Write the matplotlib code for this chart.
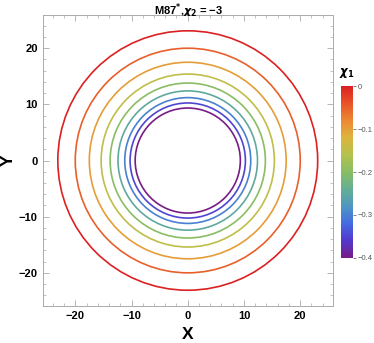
import matplotlib
matplotlib.use('Agg')
import matplotlib.pyplot as plt
from matplotlib.colors import LinearSegmentedColormap, Normalize
from matplotlib.patches import Circle
from matplotlib.ticker import MultipleLocator
from matplotlib.colorbar import ColorbarBase

plt.rcParams['font.family'] = ['Liberation Sans', 'DejaVu Sans']

# chi_1 value of each contour and its radius
chi1 = [-0.4, -0.35, -0.3, -0.25, -0.2, -0.15, -0.1, -0.05, 0.0]
radius = [9.35, 10.25, 11.2, 12.4, 13.8, 15.4, 17.5, 20.0, 23.1]
cbar_ticks = [0, -0.1, -0.2, -0.3, -0.4]
axis_ticks = [-20, -10, 0, 10, 20]

rainbow = LinearSegmentedColormap.from_list('rainbow_m', [
    (0.471, 0.108, 0.527), (0.324, 0.219, 0.806), (0.268, 0.418, 0.884),
    (0.305, 0.592, 0.761), (0.395, 0.687, 0.577), (0.532, 0.742, 0.394),
    (0.70, 0.76, 0.30), (0.866, 0.707, 0.235), (0.93, 0.533, 0.20),
    (0.91, 0.33, 0.16), (0.857, 0.131, 0.132)])
norm = Normalize(vmin=-0.4, vmax=0.0)


def minus(v):
    return str(v).replace('-', '\u2212')


fig = plt.figure(figsize=(3.74, 3.43), dpi=100)
ax = fig.add_axes([0.114, 0.108, 0.776, 0.848])

for c, r in zip(chi1, radius):
    ax.add_patch(Circle((0, 0), r, fill=False, lw=1.2, edgecolor=rainbow(norm(c))))

ax.set_xlim(-25.8, 25.8)
ax.set_ylim(-25.9, 25.9)
ax.set_xticks(axis_ticks)
ax.set_yticks(axis_ticks)
ax.set_xticklabels([minus(t) for t in axis_ticks])
ax.set_yticklabels([minus(t) for t in axis_ticks])
ax.xaxis.set_minor_locator(MultipleLocator(2))
ax.yaxis.set_minor_locator(MultipleLocator(2))
ax.tick_params(which='both', direction='in', top=True, right=True, color='#aaaaaa')
ax.tick_params(which='major', length=4, width=0.6, labelsize=8)
ax.tick_params(which='minor', length=2, width=0.5)
for lbl in ax.get_xticklabels() + ax.get_yticklabels():
    lbl.set_fontweight('bold')
for sp in ax.spines.values():
    sp.set_color('#aaaaaa')
    sp.set_linewidth(0.7)

fig.text(0.503, 0.003, 'X', fontsize=12.5, fontweight='bold', ha='center', va='bottom')
fig.text(0.022, 0.534, 'Y', fontsize=12.5, fontweight='bold', rotation=90,
         ha='center', va='center')
fig.text(0.503, 0.997, r'M87$^{\mathbf{*}}$,$\boldsymbol{\chi}_\mathbf{2}$ = ' + '\u22123',
         fontsize=8, fontweight='bold', ha='center', va='top')

cax = fig.add_axes([0.912, 0.248, 0.032, 0.501])
cb = ColorbarBase(cax, cmap=rainbow, norm=norm, ticks=cbar_ticks)
cb.set_ticklabels([minus(t) for t in cbar_ticks])
cb.outline.set_visible(False)
cax.tick_params(labelsize=5.5, colors='#555555', length=2, width=0.5, pad=1.5)
fig.text(0.928, 0.768, r'$\boldsymbol{\chi}_\mathbf{1}$', fontsize=8.5, ha='center', va='bottom')

fig.savefig('out.png', dpi=100)
